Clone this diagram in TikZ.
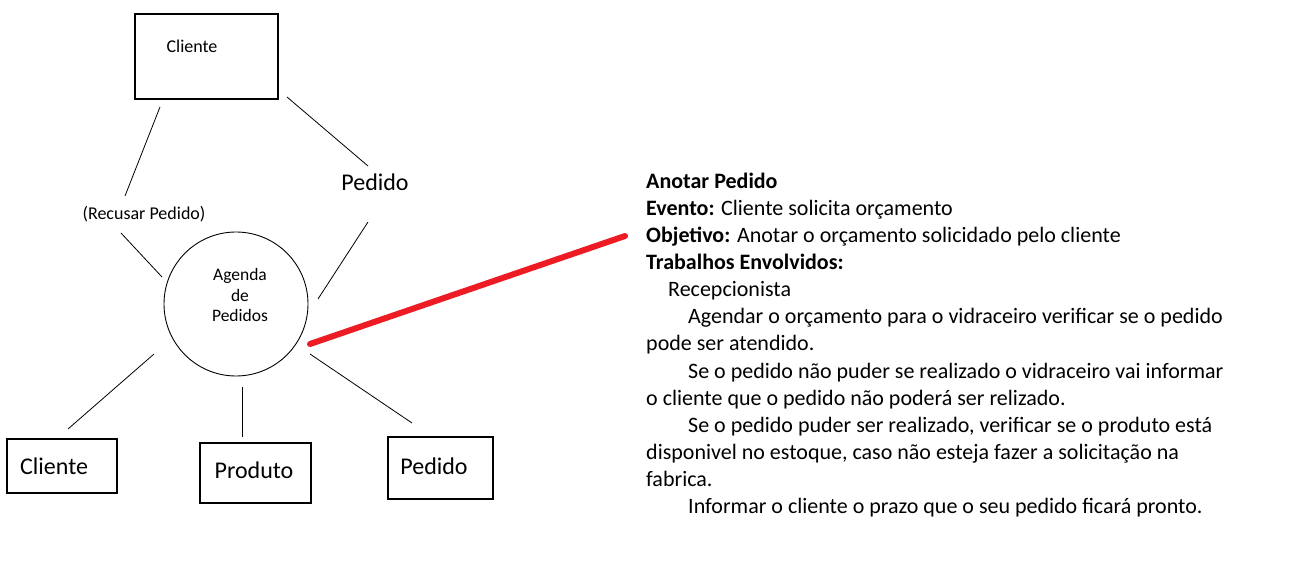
\documentclass[tikz,border=0pt]{standalone}
\usepackage{fontspec}
\setmainfont{Carlito}
\definecolor{paintred}{RGB}{237,28,36}
\begin{document}
\begin{tikzpicture}[x=1pt,y=-1pt,
  box/.style={draw,line width=1.1pt,inner sep=0pt},
  conn/.style={draw,line width=0.8pt},
  small/.style={font=\fontsize{18}{21}\selectfont,inner sep=0pt},
  big/.style={font=\fontsize{24}{27}\selectfont,inner sep=0pt},
  txt/.style={font=\fontsize{22}{25}\selectfont,inner sep=0pt,anchor=base west}]
\useasboundingbox[fill=white] (0,0) rectangle (1299,561);
% boxes
\draw[box] (135,14) rectangle (278,99);
\node[small] (topcli) at (192,46) {Cliente};
\draw[box] (7,439) rectangle (117,493);
\node[big,anchor=west] (botcli) at (20,466) {Cliente};
\draw[box] (200,443) rectangle (311,503);
\node[big] (prod) at (254,470) {Produto};
\draw[box] (388,437) rectangle (493,499);
\node[big] (botped) at (434,466) {Pedido};
% circle
\draw[line width=0.9pt] (236,304) circle (72);
\node[small,align=center,font=\fontsize{17.5}{20.5}\selectfont] (agenda) at (240,295) {Agenda\\de\\Pedidos};
% labels
\node[small] (recusar) at (144,214) {(Recusar Pedido)};
\node[big] (pedlab) at (375,182) {Pedido};
% connectors
\coordinate (a1) at (160,107); \coordinate (a2) at (125,196);
\coordinate (b1) at (121,233); \coordinate (b2) at (162,277);
\coordinate (c1) at (287,97); \coordinate (c2) at (368,166);
\coordinate (d1) at (368,222); \coordinate (d2) at (318,299);
\coordinate (e1) at (154,354); \coordinate (e2) at (68,429);
\coordinate (f1) at (242,387); \coordinate (f2) at (242,437);
\coordinate (g1) at (310,354); \coordinate (g2) at (412,423);
\draw[conn] (a1) -- (a2);
\draw[conn] (b1) -- (b2);
\draw[conn] (c1) -- (c2);
\draw[conn] (d1) -- (d2);
\draw[conn] (e1) -- (e2);
\draw[conn] (f1) -- (f2);
\draw[conn] (g1) -- (g2);
% red line
\coordinate (r1) at (310,344); \coordinate (r2) at (625,236);
\draw[paintred,line width=6pt,line cap=round] (r1) -- (r2);
% text block
\node[txt] (t1) at (646,189) {\textbf{Anotar Pedido}};
\node[txt] (t2) at (646,216) {\textbf{Evento:} Cliente solicita orçamento};
\node[txt] (t3) at (646,243) {\textbf{Objetivo:} Anotar o orçamento solicidado pelo cliente};
\node[txt] (t4) at (646,270) {\textbf{Trabalhos Envolvidos:}};
\node[txt] (t5) at (668,297) {Recepcionista};
\node[txt] (t6) at (688,324) {Agendar o orçamento para o vidraceiro verificar se o pedido};
\node[txt] (t7) at (646,351) {pode ser atendido.};
\node[txt] (t8) at (688,378) {Se o pedido não puder se realizado o vidraceiro vai informar};
\node[txt] (t9) at (646,405) {o cliente que o pedido não poderá ser relizado.};
\node[txt] (t10) at (688,432) {Se o pedido puder ser realizado, verificar se o produto está};
\node[txt] (t11) at (646,459) {disponivel no estoque, caso não esteja fazer a solicitação na};
\node[txt] (t12) at (646,486) {fabrica.};
\node[txt] (t13) at (688,513) {Informar o cliente o prazo que o seu pedido ficará pronto.};
\end{tikzpicture}
\end{document}
